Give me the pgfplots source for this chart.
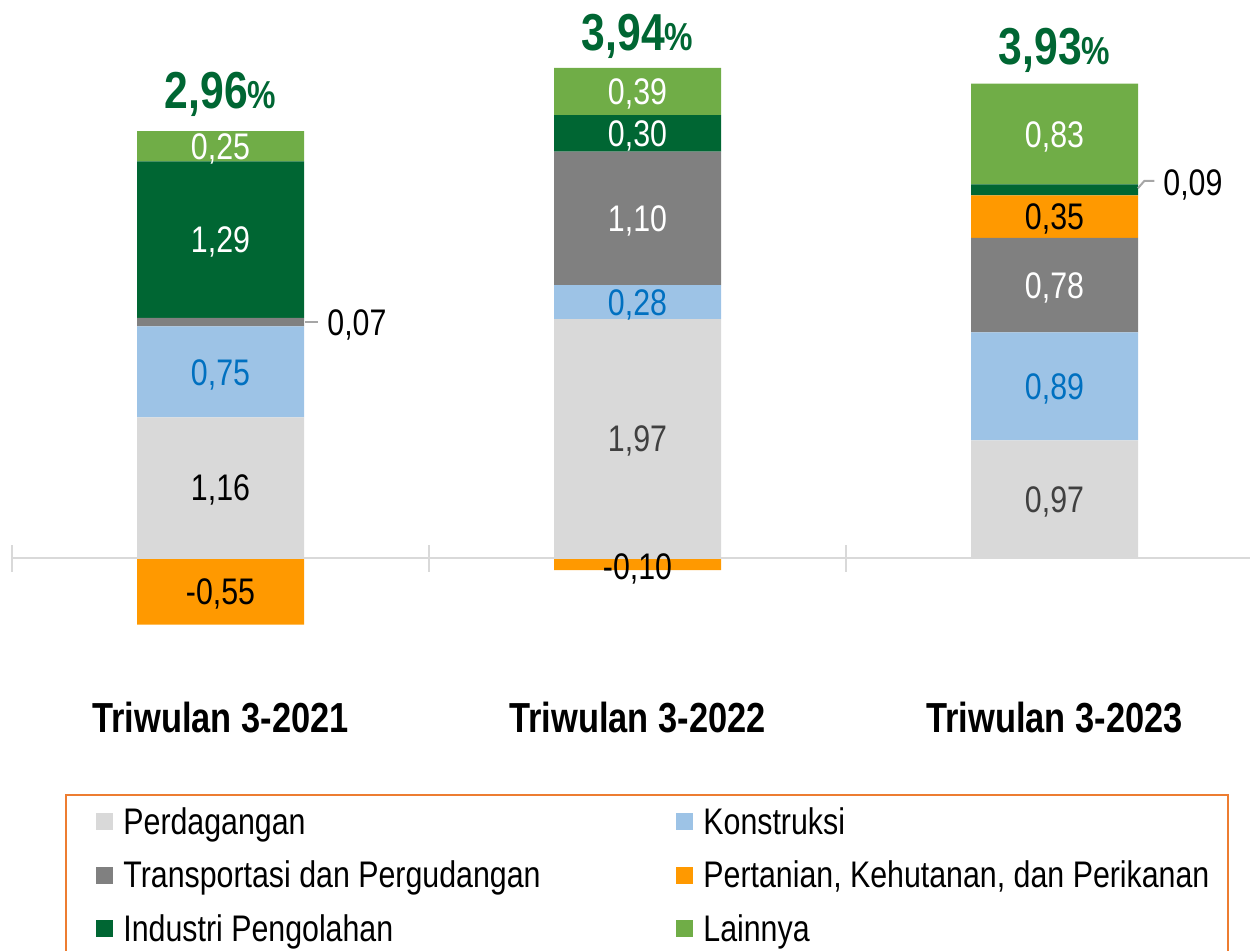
\documentclass[border=0pt]{standalone}
\usepackage{fontspec}
\setmainfont{Liberation Sans}[FakeStretch=0.82]
\usepackage{pgfplots}
\pgfplotsset{compat=1.18}
\definecolor{cPer}{HTML}{D9D9D9}
\definecolor{cKon}{HTML}{9DC3E6}
\definecolor{cTra}{HTML}{808080}
\definecolor{cPtn}{HTML}{FF9900}
\definecolor{cInd}{HTML}{006633}
\definecolor{cLai}{HTML}{70AD47}
\definecolor{cBlue}{HTML}{0070C0}
\definecolor{cTot}{HTML}{006633}
\definecolor{cBox}{HTML}{ED7D31}
\definecolor{cAx}{HTML}{D9D9D9}
\definecolor{cDk}{HTML}{404040}
\definecolor{cLead}{HTML}{A6A6A6}
\tikzset{
  vl/.style={font=\fontsize{18.5}{22}\selectfont, inner sep=0pt, text height=13.25pt, text depth=0pt, anchor=center},
  tot/.style={font=\fontsize{26}{30}\selectfont\bfseries, text=cTot, inner sep=0pt, text height=18.6pt, text depth=0pt, anchor=center},
  cat/.style={font=\fontsize{21}{25}\selectfont\bfseries, inner sep=0pt, text height=15pt, text depth=0pt, anchor=center},
}
\pgfplotsset{
  sq/.style={legend image code/.code={\fill[##1] (0pt,-2.65pt) rectangle (8.5pt,5.85pt); \path (13.5pt,0pt);}},
  myax/.style={at={(6pt,0pt)}, anchor=south west,
    scale only axis, width=619pt, height=475.5pt,
    xmin=-0.5, xmax=2.4688, ymin=-3.2399, ymax=4.6002,
    enlargelimits=false, hide axis, clip=false},
}
\begin{document}
\begin{tikzpicture}
\path[use as bounding box, clip] (0pt,0pt) rectangle (625pt,475.5pt);
\begin{axis}[
  myax,
  ybar stacked, bar width=83.5pt,
  legend columns=2,
  legend cell align=left,
  legend style={at={(0.06785,0.1514)}, anchor=north west, draw=none, fill=none,
    inner sep=0pt, column sep=0pt, row sep=9.25pt,
    font=\fontsize{18.5}{22}\selectfont,
    nodes={inner sep=0pt, text height=13.5pt, text depth=4pt}},
]
% zero line and category separators
\draw[cAx, line width=1pt] (axis cs:-0.5,0) -- (axis cs:2.4688,0);
\draw[cAx, line width=1pt] (axis cs:-0.5,-0.115) -- (axis cs:-0.5,0.107);
\draw[cAx, line width=1pt] (axis cs:0.5,-0.115) -- (axis cs:0.5,0.107);
\draw[cAx, line width=1pt] (axis cs:1.5,-0.115) -- (axis cs:1.5,0.107);

\addplot[fill=cPer, draw=none, sq] coordinates {(0,1.16) (1,1.97) (2,0.97)};
\addlegendentry{\makebox[276.5pt][l]{Perdagangan}}
\addplot[fill=cKon, draw=none, sq] coordinates {(0,0.75) (1,0.28) (2,0.89)};
\addlegendentry{Konstruksi}
\addplot[fill=cTra, draw=none, sq] coordinates {(0,0.07) (1,1.10) (2,0.78)};
\addlegendentry{\makebox[276.5pt][l]{Transportasi dan Pergudangan}}
\addplot[fill=cPtn, draw=none, sq] coordinates {(0,-0.55) (1,-0.10) (2,0.35)};
\addlegendentry{Pertanian, Kehutanan, dan Perikanan}
\addplot[fill=cInd, draw=none, sq] coordinates {(0,1.29) (1,0.30) (2,0.09)};
\addlegendentry{\makebox[276.5pt][l]{Industri Pengolahan}}
\addplot[fill=cLai, draw=none, sq] coordinates {(0,0.25) (1,0.39) (2,0.83)};
\addlegendentry{Lainnya}
\end{axis}
\begin{axis}[myax]
% value labels 2021
\node[vl] at (axis cs:0,0.58) {1,16};
\node[vl, text=cBlue] at (axis cs:0,1.535) {0,75};
\node[vl, text=white] at (axis cs:0,2.625) {1,29};
\node[vl, text=white] at (axis cs:0,3.395) {0,25};
\node[vl] at (axis cs:0,-0.275) {-0,55};
\draw[cLead, line width=1pt] (axis cs:0.2026,1.945) -- (axis cs:0.2338,1.945);
\node[vl, anchor=west] at (axis cs:0.2554,1.945) {0,07};
% 2022
\node[vl, text=cDk] at (axis cs:1,0.985) {1,97};
\node[vl, text=cBlue] at (axis cs:1,2.11) {0,28};
\node[vl, text=white] at (axis cs:1,2.80) {1,10};
\node[vl, text=white] at (axis cs:1,3.50) {0,30};
\node[vl, text=white] at (axis cs:1,3.845) {0,39};
\node[vl] at (axis cs:1,-0.066) {-0,10};
% 2023
\node[vl, text=cDk] at (axis cs:2,0.485) {0,97};
\node[vl, text=cBlue] at (axis cs:2,1.415) {0,89};
\node[vl, text=white] at (axis cs:2,2.25) {0,78};
\node[vl] at (axis cs:2,2.815) {0,35};
\node[vl, text=white] at (axis cs:2,3.495) {0,83};
\draw[cLead, line width=1pt] (axis cs:2.2,3.048) -- (axis cs:2.2153,3.108) -- (axis cs:2.2393,3.108);
\node[vl, anchor=west] at (axis cs:2.2602,3.096) {0,09};
% totals
\node[tot] at (axis cs:0,3.86) {2,96{\fontsize{19.5}{22}\selectfont\%}};
\node[tot] at (axis cs:1,4.34) {3,94{\fontsize{19.5}{22}\selectfont\%}};
\node[tot] at (axis cs:2,4.225) {3,93{\fontsize{19.5}{22}\selectfont\%}};
% category labels
\node[cat] at (axis cs:0,-1.319) {Triwulan 3-2021};
\node[cat] at (axis cs:1,-1.319) {Triwulan 3-2022};
\node[cat] at (axis cs:2,-1.319) {Triwulan 3-2023};
\end{axis}
\draw[cBox, line width=1pt] (33pt,-5pt) rectangle (614pt,78pt);
\end{tikzpicture}
\end{document}
